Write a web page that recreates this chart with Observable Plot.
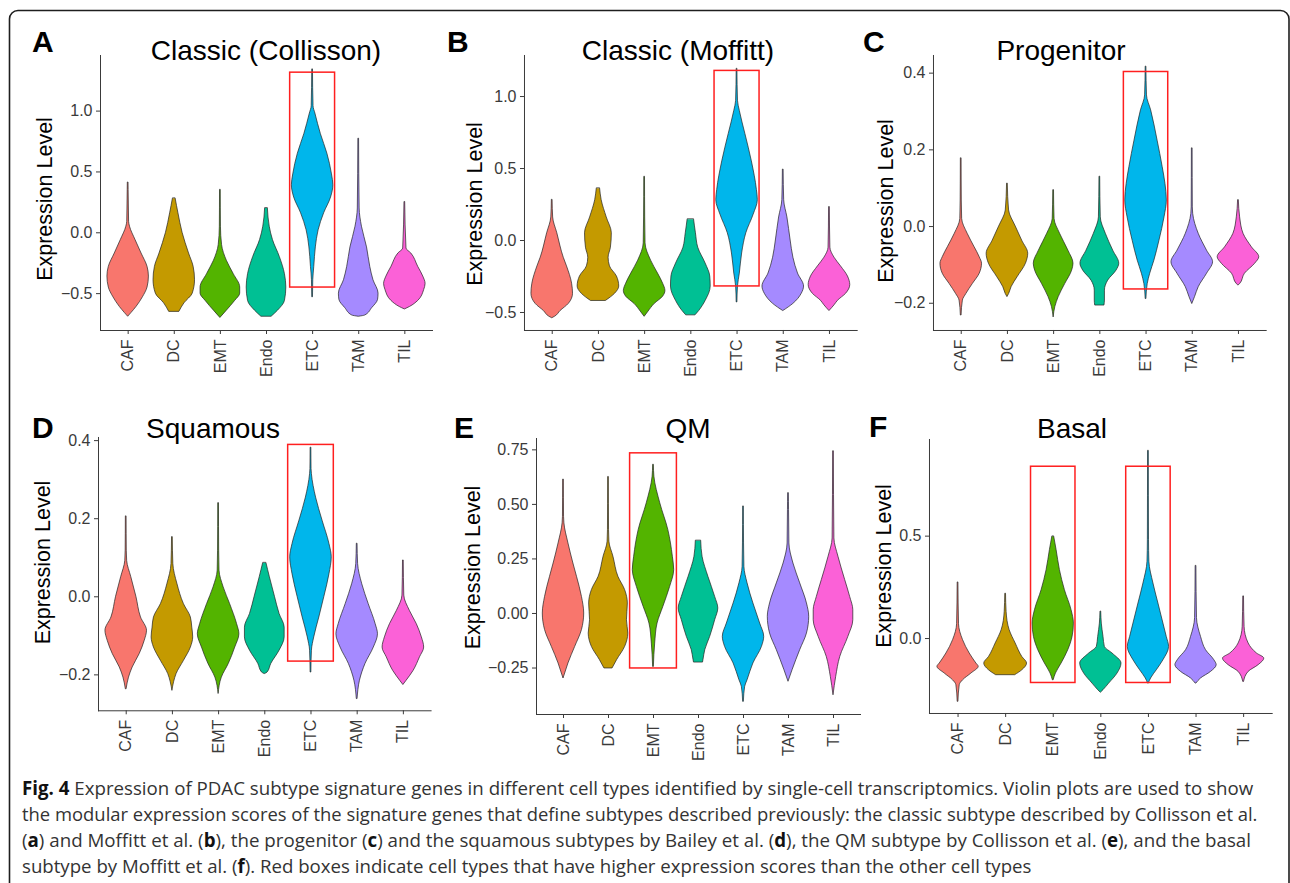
<!DOCTYPE html>
<html><head><meta charset="utf-8">
<script src="https://cdn.jsdelivr.net/npm/d3@7"></script>
<script src="https://cdn.jsdelivr.net/npm/@observablehq/plot@0.6"></script>
<style>
html,body{margin:0;padding:0;background:#fff;}
#root{position:relative;width:1290px;height:883px;overflow:hidden;background:#fff;}
.panel{position:absolute;}
#overlay{position:absolute;left:0;top:0;pointer-events:none;}
</style></head><body><div id="root"></div>
<script>
// ---------- data ----------
const cellTypes = ["CAF","DC","EMT","Endo","ETC","TAM","TIL"];
const hueColors = ["#F8766D","#C49A00","#53B400","#00C094","#00B6EB","#A58AFF","#FB61D7"];
const panelLetters = ["A","B","C","D","E","F"];
const panelTitles = ["Classic (Collisson)","Classic (Moffitt)","Progenitor","Squamous","QM","Basal"];
const yAxisTitle = "Expression Level";

const yTicksA = [-0.5, 0, 0.5, 1.0], yTickLabelsA = ["−0.5","0.0","0.5","1.0"];
const yTicksB = [-0.5, 0, 0.5, 1.0], yTickLabelsB = ["−0.5","0.0","0.5","1.0"];
const yTicksC = [-0.2, 0, 0.2, 0.4], yTickLabelsC = ["−0.2","0.0","0.2","0.4"];
const yTicksD = [-0.2, 0, 0.2, 0.4], yTickLabelsD = ["−0.2","0.0","0.2","0.4"];
const yTicksE = [-0.25, 0, 0.25, 0.5, 0.75], yTickLabelsE = ["−0.25","0.00","0.25","0.50","0.75"];
const yTicksF = [0, 0.5], yTickLabelsF = ["0.0","0.5"];

// violin profiles: [expression value, half-width in category units], top to bottom
const violinsA = {
  CAF: [[0.41,0.008],[0.29,0.012],[0.09,0.02],[0.05,0.04],[-0.06,0.16],[-0.17,0.29],[-0.28,0.42],[-0.36,0.45],[-0.45,0.42],[-0.53,0.32],[-0.61,0.18],[-0.66,0.07],[-0.69,0]],
  DC: [[0.28,0.03],[0.16,0.09],[0.0,0.18],[-0.17,0.32],[-0.28,0.42],[-0.39,0.45],[-0.5,0.4],[-0.58,0.22],[-0.65,0.11]],
  EMT: [[0.35,0.008],[0.05,0.012],[-0.1,0.036],[-0.23,0.14],[-0.34,0.29],[-0.45,0.43],[-0.5,0.43],[-0.56,0.32],[-0.64,0.14],[-0.7,0]],
  Endo: [[0.2,0.03],[0.05,0.07],[-0.06,0.14],[-0.2,0.29],[-0.34,0.4],[-0.45,0.43],[-0.56,0.4],[-0.64,0.25],[-0.69,0.11]],
  ETC: [[1.34,0.008],[1.04,0.02],[0.98,0.06],[0.81,0.18],[0.65,0.32],[0.48,0.42],[0.39,0.45],[0.29,0.4],[0.16,0.25],[0.02,0.13],[-0.12,0.07],[-0.28,0.036],[-0.39,0.014],[-0.53,0.008]],
  TAM: [[0.77,0.008],[0.2,0.02],[0.05,0.07],[-0.12,0.18],[-0.28,0.25],[-0.39,0.32],[-0.5,0.43],[-0.55,0.42],[-0.62,0.29],[-0.68,0.14],[-0.69,0]],
  TIL: [[0.25,0.008],[-0.13,0.036],[-0.17,0.14],[-0.28,0.29],[-0.36,0.4],[-0.42,0.45],[-0.47,0.42],[-0.56,0.29],[-0.61,0.11],[-0.63,0]]
};
const violinsB = {
  CAF: [[0.28,0.008],[0.16,0.02],[0.05,0.11],[-0.12,0.25],[-0.18,0.32],[-0.3,0.43],[-0.37,0.45],[-0.44,0.36],[-0.49,0.18],[-0.53,0.06],[-0.54,0]],
  DC: [[0.36,0.036],[0.28,0.07],[0.16,0.18],[0.05,0.29],[-0.05,0.27],[-0.12,0.22],[-0.18,0.25],[-0.25,0.4],[-0.32,0.45],[-0.37,0.36],[-0.42,0.16]],
  EMT: [[0.44,0.008],[0.16,0.012],[-0.02,0.02],[-0.14,0.14],[-0.23,0.29],[-0.3,0.4],[-0.35,0.45],[-0.39,0.4],[-0.44,0.22],[-0.5,0.07],[-0.53,0]],
  Endo: [[0.145,0.07],[0.05,0.11],[-0.05,0.16],[-0.16,0.32],[-0.25,0.42],[-0.32,0.43],[-0.42,0.32],[-0.49,0.18],[-0.52,0.1]],
  ETC: [[1.19,0.008],[0.97,0.02],[0.9,0.06],[0.74,0.18],[0.55,0.32],[0.35,0.43],[0.28,0.45],[0.18,0.36],[0.05,0.2],[-0.09,0.11],[-0.23,0.06],[-0.32,0.02],[-0.43,0.008]],
  TAM: [[0.49,0.008],[0.28,0.02],[0.16,0.09],[0,0.16],[-0.12,0.22],[-0.23,0.32],[-0.32,0.45],[-0.37,0.4],[-0.44,0.22],[-0.49,0]],
  TIL: [[0.23,0.008],[-0.05,0.02],[-0.12,0.11],[-0.18,0.25],[-0.25,0.4],[-0.31,0.45],[-0.37,0.36],[-0.42,0.18],[-0.45,0.11],[-0.49,0]]
};
const violinsC = {
  CAF: [[0.177,0.008],[0.068,0.012],[0.02,0.02],[-0.019,0.14],[-0.054,0.29],[-0.08,0.4],[-0.097,0.45],[-0.123,0.4],[-0.15,0.25],[-0.176,0.11],[-0.193,0.036],[-0.232,0.008]],
  DC: [[0.111,0.008],[0.042,0.036],[0,0.18],[-0.037,0.32],[-0.071,0.45],[-0.097,0.4],[-0.132,0.22],[-0.158,0.09],[-0.176,0.036],[-0.184,0]],
  EMT: [[0.094,0.008],[0.02,0.02],[-0.019,0.14],[-0.063,0.32],[-0.097,0.43],[-0.115,0.4],[-0.15,0.25],[-0.184,0.11],[-0.21,0.036],[-0.237,0]],
  Endo: [[0.129,0.008],[0.024,0.02],[-0.019,0.13],[-0.063,0.29],[-0.097,0.42],[-0.115,0.36],[-0.141,0.18],[-0.167,0.11],[-0.193,0.11],[-0.206,0.1]],
  ETC: [[0.416,0.008],[0.342,0.02],[0.303,0.11],[0.224,0.25],[0.155,0.36],[0.111,0.42],[0.068,0.45],[0.024,0.4],[-0.037,0.29],[-0.089,0.18],[-0.123,0.09],[-0.15,0.036],[-0.189,0.008]],
  TAM: [[0.203,0.008],[0.05,0.012],[0.033,0.02],[-0.019,0.14],[-0.063,0.32],[-0.093,0.45],[-0.123,0.32],[-0.158,0.14],[-0.184,0.06],[-0.202,0]],
  TIL: [[0.068,0.008],[0.024,0.036],[-0.019,0.11],[-0.054,0.29],[-0.08,0.45],[-0.097,0.36],[-0.123,0.14],[-0.15,0.036],[-0.154,0]]
};
const violinsD = {
  CAF: [[0.205,0.008],[0.118,0.012],[0.092,0.02],[0.05,0.11],[0,0.22],[-0.053,0.32],[-0.087,0.45],[-0.113,0.4],[-0.147,0.29],[-0.181,0.14],[-0.207,0.06],[-0.237,0.008]],
  DC: [[0.152,0.008],[0.084,0.02],[0.032,0.11],[-0.019,0.25],[-0.053,0.4],[-0.079,0.43],[-0.104,0.45],[-0.13,0.4],[-0.164,0.25],[-0.198,0.09],[-0.219,0.036],[-0.241,0]],
  EMT: [[0.239,0.008],[0.118,0.012],[0.067,0.02],[0.024,0.11],[-0.019,0.25],[-0.07,0.4],[-0.096,0.45],[-0.13,0.36],[-0.172,0.22],[-0.207,0.07],[-0.249,0]],
  Endo: [[0.086,0.036],[0.05,0.11],[0,0.22],[-0.044,0.32],[-0.079,0.43],[-0.104,0.43],[-0.138,0.32],[-0.172,0.14],[-0.194,0.06],[-0.198,0]],
  ETC: [[0.381,0.008],[0.327,0.012],[0.314,0.02],[0.254,0.11],[0.195,0.25],[0.135,0.4],[0.101,0.45],[0.058,0.4],[0,0.29],[-0.053,0.18],[-0.104,0.07],[-0.138,0.02],[-0.194,0.008]],
  TAM: [[0.135,0.008],[0.084,0.02],[0.032,0.11],[-0.019,0.25],[-0.07,0.4],[-0.096,0.45],[-0.13,0.36],[-0.172,0.18],[-0.215,0.06],[-0.262,0.008]],
  TIL: [[0.092,0.008],[0.003,0.02],[-0.036,0.14],[-0.07,0.29],[-0.104,0.4],[-0.13,0.45],[-0.155,0.36],[-0.19,0.22],[-0.215,0.07],[-0.226,0]]
};
const violinsE = {
  CAF: [[0.612,0.008],[0.443,0.012],[0.413,0.02],[0.321,0.11],[0.229,0.22],[0.168,0.3],[0.076,0.41],[0,0.46],[-0.076,0.41],[-0.153,0.26],[-0.229,0.11],[-0.275,0.037],[-0.298,0]],
  DC: [[0.624,0.008],[0.382,0.012],[0.329,0.02],[0.26,0.11],[0.168,0.22],[0.107,0.37],[0.046,0.43],[-0.031,0.41],[-0.092,0.44],[-0.153,0.37],[-0.214,0.19],[-0.252,0.09]],
  EMT: [[0.68,0.008],[0.627,0.02],[0.505,0.15],[0.382,0.33],[0.26,0.43],[0.199,0.46],[0.122,0.37],[0.031,0.22],[-0.046,0.09],[-0.138,0.037],[-0.245,0.008]],
  Endo: [[0.332,0.06],[0.26,0.09],[0.168,0.22],[0.076,0.37],[0.023,0.44],[-0.031,0.37],[-0.107,0.26],[-0.168,0.15],[-0.214,0.11],[-0.225,0.1]],
  ETC: [[0.489,0.008],[0.321,0.012],[0.214,0.02],[0.138,0.09],[0.046,0.22],[-0.046,0.37],[-0.107,0.46],[-0.153,0.41],[-0.229,0.22],[-0.306,0.09],[-0.336,0.037],[-0.405,0.008]],
  TAM: [[0.55,0.008],[0.474,0.012],[0.321,0.02],[0.229,0.11],[0.138,0.26],[0.046,0.41],[-0.015,0.46],[-0.092,0.41],[-0.168,0.26],[-0.26,0.09],[-0.313,0]],
  TIL: [[0.742,0.008],[0.344,0.02],[0.26,0.11],[0.153,0.26],[0.076,0.37],[0.015,0.44],[-0.031,0.44],[-0.107,0.33],[-0.199,0.15],[-0.29,0.06],[-0.375,0]]
};
const violinsF = {
  CAF: [[0.272,0.008],[0.07,0.02],[-0.008,0.105],[-0.073,0.245],[-0.122,0.385],[-0.138,0.434],[-0.171,0.28],[-0.204,0.105],[-0.228,0.035],[-0.309,0.008]],
  DC: [[0.217,0.008],[0.13,0.02],[0.041,0.084],[-0.024,0.21],[-0.09,0.35],[-0.122,0.45],[-0.155,0.35],[-0.179,0.2]],
  EMT: [[0.497,0.02],[0.432,0.07],[0.334,0.14],[0.236,0.245],[0.138,0.385],[0.073,0.434],[0.008,0.406],[-0.057,0.315],[-0.122,0.175],[-0.171,0.056],[-0.204,0.008]],
  Endo: [[0.13,0.008],[0.073,0.02],[0.008,0.056],[-0.041,0.084],[-0.073,0.245],[-0.122,0.434],[-0.171,0.35],[-0.22,0.175],[-0.252,0.056],[-0.265,0]],
  ETC: [[0.915,0.008],[0.48,0.012],[0.375,0.02],[0.269,0.105],[0.171,0.21],[0.073,0.315],[0.008,0.385],[-0.041,0.434],[-0.106,0.315],[-0.155,0.175],[-0.195,0.056],[-0.22,0.008]],
  TAM: [[0.353,0.008],[0.1,0.02],[0.008,0.105],[-0.057,0.21],[-0.106,0.385],[-0.13,0.434],[-0.163,0.315],[-0.195,0.105],[-0.22,0.008]],
  TIL: [[0.204,0.008],[0.057,0.02],[-0.024,0.105],[-0.073,0.28],[-0.098,0.434],[-0.13,0.315],[-0.163,0.105],[-0.212,0.008]]
};

// red highlight boxes: cell type, lower and upper expression bound
const highlightA = [{type:"ETC", lo:-0.45, hi:1.316}];
const highlightB = [{type:"ETC", lo:-0.319, hi:1.178}];
const highlightC = [{type:"ETC", lo:-0.164, hi:0.403}];
const highlightD = [{type:"ETC", lo:-0.166, hi:0.389}];
const highlightE = [{type:"EMT", lo:-0.252, hi:0.734}];
const highlightF = [{type:"EMT", lo:-0.217, hi:0.839},{type:"ETC", lo:-0.217, hi:0.839}];

const captionLines = [
  [["Fig. 4", true], [" Expression of PDAC subtype signature genes in different cell types identified by single-cell transcriptomics. Violin plots are used to show", false]],
  [["the modular expression scores of the signature genes that define subtypes described previously: the classic subtype described by Collisson et al.", false]],
  [["(",false],["a",true],[") and Moffitt et al. (",false],["b",true],["), the progenitor (",false],["c",true],[") and the squamous subtypes by Bailey et al. (",false],["d",true],["), the QM subtype by Collisson et al. (",false],["e",true],["), and the basal",false]],
  [["subtype by Moffitt et al. (",false],["f",true],["). Red boxes indicate cell types that have higher expression scores than the other cell types",false]]
];

// ---------- layout ----------
const panels = [
  {violins:violinsA, boxes:highlightA, ticks:yTicksA, labels:yTickLabelsA, x0:100, x1:432, y0:55, y1:330, yDomain:[-0.803,1.457], boxHalf:0.487,
   title:[266,60], letter:[32,52], ylab:[51.5,199]},
  {violins:violinsB, boxes:highlightB, ticks:yTicksB, labels:yTickLabelsB, x0:524.3, x1:857, y0:55, y1:330, yDomain:[-0.625,1.285], boxHalf:0.487,
   title:[678,60], letter:[447,52], ylab:[481.5,204]},
  {violins:violinsC, boxes:highlightC, ticks:yTicksC, labels:yTickLabelsC, x0:933.3, x1:1266, y0:55, y1:330, yDomain:[-0.271,0.446], boxHalf:0.48,
   title:[1061,60], letter:[863,52], ylab:[893,201]},
  {violins:violinsD, boxes:highlightD, ticks:yTicksD, labels:yTickLabelsD, x0:97.7, x1:430.3, y0:436.7, y1:710, yDomain:[-0.292,0.408], boxHalf:0.494,
   title:[213,438], letter:[32,438], ylab:[49.5,562.5]},
  {violins:violinsE, boxes:highlightE, ticks:yTicksE, labels:yTickLabelsE, x0:536, x1:860, y0:438.3, y1:714.3, yDomain:[-0.463,0.802], boxHalf:0.52,
   title:[688,438], letter:[454,438], ylab:[480,567.5]},
  {violins:violinsF, boxes:highlightF, ticks:yTicksF, labels:yTickLabelsF, x0:929.3, x1:1272, y0:439.3, y1:713.3, yDomain:[-0.366,0.972], boxHalf:0.467,
   title:[1072,438], letter:[869,437], ylab:[890.5,566]}
];

const root = document.getElementById("root");
const ML = 95, MR = 12, MT = 20, MB = 60;
const positions = cellTypes.map((_, i) => i + 1);

panels.forEach(p => {
  const rows = [];
  cellTypes.forEach((t, i) => {
    const pos = i + 1;
    p.violins[t].forEach(([v, hw]) => rows.push({type: t, v, lo: pos - hw, hi: pos + hw}));
  });
  const boxRows = p.boxes.map(b => ({...b, pos: cellTypes.indexOf(b.type) + 1}));
  const chart = Plot.plot({
    width: (p.x1 - p.x0) + ML + MR,
    height: (p.y1 - p.y0) + MT + MB,
    marginLeft: ML, marginRight: MR, marginTop: MT, marginBottom: MB,
    style: {background: "none", overflow: "visible", fontFamily: "'Liberation Sans', Arial, sans-serif", fontSize: "16px", color: "#3a3a3a"},
    x: {domain: [0.4, 7.6], ticks: positions, tickFormat: d => cellTypes[d - 1], tickRotate: -90, tickSize: 4, tickPadding: 5, line: true, label: null},
    y: {domain: p.yDomain, ticks: p.ticks, tickFormat: d => p.labels[p.ticks.indexOf(d)], tickSize: 4, tickPadding: 4, line: true, label: null},
    color: {domain: cellTypes, range: hueColors},
    marks: [
      Plot.areaX(rows, {y: "v", x1: "lo", x2: "hi", z: "type", fill: "type", stroke: "#222", strokeWidth: 0.7, curve: "monotone-y"}),
      Plot.rect(boxRows, {x1: d => d.pos - p.boxHalf, x2: d => d.pos + p.boxHalf, y1: "lo", y2: "hi", fill: "none", stroke: "#ff1f1f", strokeWidth: 1.5})
    ]
  });
  const holder = document.createElement("div");
  holder.className = "panel";
  holder.style.left = (p.x0 - ML) + "px";
  holder.style.top = (p.y0 - MT) + "px";
  holder.appendChild(chart);
  root.appendChild(holder);
});

// ---------- text overlay ----------
const svg = d3.select(root).append("svg").attr("id", "overlay").attr("width", 1290).attr("height", 883);
svg.append("path")
  .attr("d", "M9.5,890 V19 A8.5,8.5 0 0 1 18,10.5 H1280.5 A8.5,8.5 0 0 1 1289,19 V890")
  .attr("fill", "none").attr("stroke", "#1e1e1e").attr("stroke-width", 1.6);

panels.forEach((p, k) => {
  svg.append("text").attr("x", p.title[0]).attr("y", p.title[1]).attr("text-anchor", "middle")
    .attr("font-family", "'Liberation Sans', Arial, sans-serif").attr("font-size", 28).attr("fill", "#000").text(panelTitles[k]);
  svg.append("text").attr("x", p.letter[0]).attr("y", p.letter[1])
    .attr("font-family", "'Liberation Sans', Arial, sans-serif").attr("font-weight", "bold").attr("font-size", 30).attr("fill", "#000").text(panelLetters[k]);
  svg.append("text").attr("transform", `translate(${p.ylab[0]},${p.ylab[1]}) rotate(-90)`).attr("text-anchor", "middle")
    .attr("font-family", "'Liberation Sans', Arial, sans-serif").attr("font-size", 21.5).attr("fill", "#000").text(yAxisTitle);
});

const capBaselines = [795, 821, 847, 873];
const capWidths = [1232, 1236, 1230, 1010];
captionLines.forEach((segs, i) => {
  const g = svg.append("g");
  const t = g.append("text").attr("x", 0).attr("y", capBaselines[i])
    .attr("font-family", "'Open Sans', 'Noto Sans', sans-serif").attr("font-size", 19).attr("fill", "#333")
    .style("white-space", "pre");
  segs.forEach(([s, b]) => t.append("tspan").attr("font-weight", b ? "bold" : null).attr("fill", b ? "#111" : null).text(s));
  const natural = t.node().getComputedTextLength();
  g.attr("transform", `translate(22,0) scale(${capWidths[i] / natural},1)`);
});
</script>
</body></html>
